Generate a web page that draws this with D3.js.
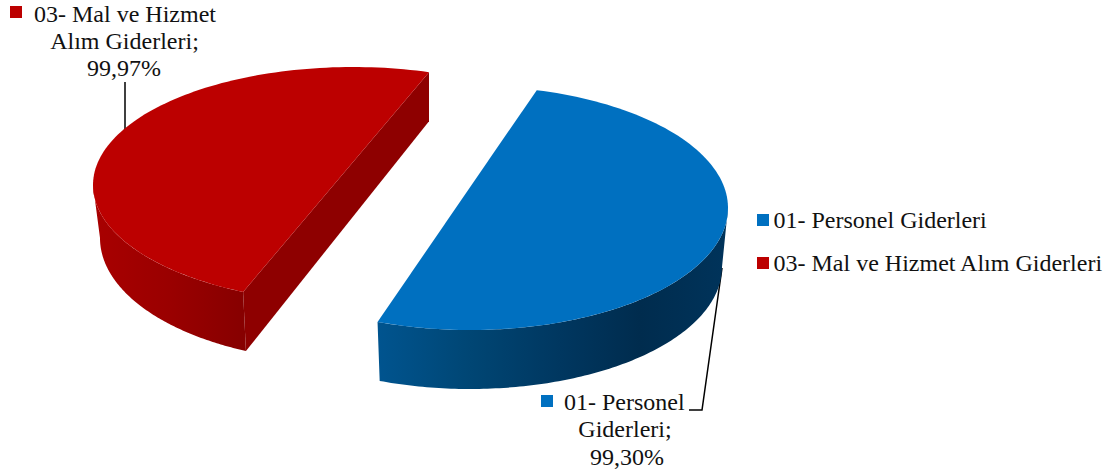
<!DOCTYPE html>
<html><head><meta charset="utf-8">
<script src="https://cdn.jsdelivr.net/npm/d3@7"></script>
<style>html,body{margin:0;padding:0;background:#fff;overflow:hidden}svg{display:block}
text{font-family:"Liberation Serif","Times New Roman",serif;font-size:24px;fill:#111}</style>
</head><body><svg id="c" width="1112" height="472"></svg>
<script>
const categories = ["01- Personel Giderleri", "03- Mal ve Hizmet Alım Giderleri"];
const values = [99.30, 99.97];
const valueLabels = ["99,30%", "99,97%"];
const colors = ["#0070C0", "#BC0000"];

const svg = d3.select("#c");
const defs = svg.append("defs");

// Projected geometry of each exploded slice (top and bottom ellipse of the 3D pie)
const geo = [
  {top:{cx:470,cy:208,rx:258,ry:122}, bot:{cx:470,cy:267,rx:252,ry:122}, t0:15, t1:201, rimFrom:90, rimTo:201,
   grad:[[378,"#00548f"],[470,"#004674"],[560,"#003760"],[640,"#002c4e"],[722,"#00335a"]]},
  {top:{cx:353,cy:185,rx:260,ry:118}, bot:{cx:348,cy:238,rx:248,ry:124}, t0:205, t1:377, rimBot:204.3, rimStop:270,
   grad:[[95,"#a80000"],[170,"#9a0000"],[246,"#860000"]]}
];

const pieGen = d3.pie().sort(null).value(d => d).startAngle(0).endAngle(2 * Math.PI);
const arcs = pieGen(values);

const pt = (e, deg) => {
  const a = deg * Math.PI / 180;
  return [e.cx + e.rx * Math.sin(a), e.cy - e.ry * Math.cos(a)];
};
const sweep = (e, a, b, n = 120) => d3.range(n + 1).map(i => pt(e, a + (b - a) * i / n));
const line = d3.line();

// Leader lines sit behind the pie
const leaders = [
  [[689,410],[702,410],[722,268]],
  [[125,82],[125,135]]
];
svg.selectAll("path.leader").data(leaders).join("path").attr("class","leader")
  .attr("d", line).attr("fill","none").attr("stroke","#000").attr("stroke-width",1.5);

// Red slice is behind the blue slice
[1, 0].forEach(i => {
  const g = geo[i], arc = arcs[i];
  const ang = d3.scaleLinear().domain([arc.startAngle, arc.endAngle]).range([g.t0, g.t1]);
  const a0 = ang(arc.startAngle), a1 = ang(arc.endAngle);
  const id = "rim" + i;
  const lg = defs.append("linearGradient").attr("id", id).attr("gradientUnits","userSpaceOnUse")
    .attr("x1", g.grad[0][0]).attr("x2", g.grad[g.grad.length-1][0]).attr("y1",0).attr("y2",0);
  const span = g.grad[g.grad.length-1][0] - g.grad[0][0];
  g.grad.forEach(s => lg.append("stop").attr("offset",(s[0]-g.grad[0][0])/span).attr("stop-color",s[1]));

  let rim;
  if (i === 1) {
    const c = [pt(g.top, a0), pt(g.top, a1)];
    const b = pt(g.bot, g.rimBot);
    const face = [c[1], [c[1][0], c[1][1] + 49], b, c[0]];
    svg.append("path").attr("d", line(face) + "Z").attr("fill", "#8e0000");
    rim = sweep(g.bot, g.rimBot, g.rimStop).concat(sweep(g.top, g.rimStop, a0));
  } else {
    rim = sweep(g.bot, g.rimFrom, g.rimTo).concat(sweep(g.top, g.rimTo, g.rimFrom));
  }
  svg.append("path").attr("d", line(rim) + "Z").attr("fill", `url(#${id})`);
  svg.append("path").attr("d", line(sweep(g.top, a0, a1)) + "Z").attr("fill", colors[i]);
});

// Data labels
const labelSpec = [
  {lines:["01- Personel","Giderleri;",valueLabels[0]], xs:[564,625,627], ys:[410,437,465], anchors:["start","middle","middle"], key:[541,395]},
  {lines:["03- Mal ve Hizmet","Alım Giderleri;",valueLabels[1]], xs:[34,124.5,124], ys:[22,49,76], anchors:["start","middle","middle"], key:[10,6]}
];
labelSpec.forEach((l,i) => {
  svg.append("rect").attr("x",l.key[0]).attr("y",l.key[1]).attr("width",12).attr("height",12).attr("fill",colors[i]);
  l.lines.forEach((t,j) => svg.append("text").attr("x",l.xs[j]).attr("y",l.ys[j]).attr("text-anchor",l.anchors[j]).text(t));
});

// Legend
const legendY = d3.scalePoint().domain(categories).range([220,263]);
const leg = svg.selectAll("g.leg").data(categories).join("g").attr("class","leg")
  .attr("transform", d => `translate(757,${legendY(d)})`);
leg.append("rect").attr("x",0).attr("y",-6).attr("width",12).attr("height",12).attr("fill",(d,i)=>colors[i]);
leg.append("text").attr("x",16.5).attr("y",7.5).text(d=>d);
</script></body></html>
